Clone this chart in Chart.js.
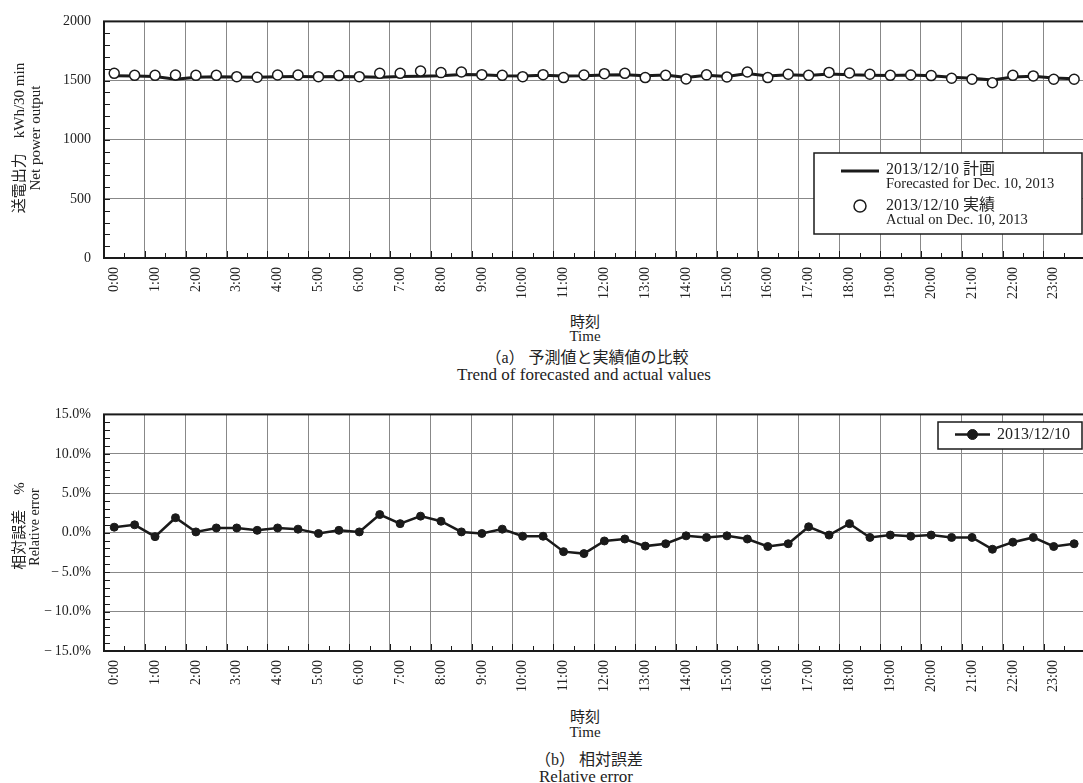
<!DOCTYPE html>
<html>
<head>
<meta charset="utf-8">
<script src="https://cdn.jsdelivr.net/npm/chart.js@4.4.1/dist/chart.umd.min.js"></script>
<style>
  html, body { margin: 0; padding: 0; background: #fff; width: 1083px; height: 783px; overflow: hidden; }
  .chart { position: absolute; left: 0; }
  .lbl {
    position: absolute; transform: translate(-50%, -50%); white-space: nowrap; color: #222;
    font-family: "Liberation Serif", "Noto Sans CJK JP", serif; line-height: 1;
  }
  .rot { transform: translate(-50%, -50%) rotate(-90deg); }
</style>
</head>
<body>
<canvas id="power" class="chart" width="1100" height="300" style="top:0"></canvas>
<canvas id="error" class="chart" width="1100" height="300" style="top:393px"></canvas>

<!-- (a) titles -->
<div class="lbl rot" style="left:19px; top:138px; font-size:15px">送電出力　kWh/30 min</div>
<div class="lbl rot" style="left:35px; top:138px; font-size:15px">Net power output</div>
<div class="lbl" style="left:585px; top:322px; font-size:15px">時刻</div>
<div class="lbl" style="left:585px; top:336px; font-size:15px">Time</div>
<div class="lbl" style="left:587px; top:358px; font-size:16px">（a） 予測値と実績値の比較</div>
<div class="lbl" style="left:584px; top:374px; font-size:17px">Trend of forecasted and actual values</div>

<!-- (b) titles -->
<div class="lbl rot" style="left:19px; top:526px; font-size:15px">相対誤差　%</div>
<div class="lbl rot" style="left:35px; top:527px; font-size:14px">Relative error</div>
<div class="lbl" style="left:585px; top:717px; font-size:15px">時刻</div>
<div class="lbl" style="left:585px; top:732px; font-size:15px">Time</div>
<div class="lbl" style="left:589px; top:760px; font-size:16px">（b） 相対誤差</div>
<div class="lbl" style="left:586px; top:776px; font-size:17px">Relative error</div>

<script>
// DATA
const timeLabels = [
    '0:00', '0:30', '1:00', '1:30', '2:00', '2:30', '3:00', '3:30',
    '4:00', '4:30', '5:00', '5:30', '6:00', '6:30', '7:00', '7:30',
    '8:00', '8:30', '9:00', '9:30', '10:00', '10:30', '11:00', '11:30',
    '12:00', '12:30', '13:00', '13:30', '14:00', '14:30', '15:00', '15:30',
    '16:00', '16:30', '17:00', '17:30', '18:00', '18:30', '19:00', '19:30',
    '20:00', '20:30', '21:00', '21:30', '22:00', '22:30', '23:00', '23:30'
];

// kWh/30 min
const forecastKwh = [
    1540, 1538, 1535, 1512, 1528, 1532, 1530, 1527, 1532, 1534, 1533, 1535,
    1532, 1528, 1535, 1537, 1540, 1552, 1548, 1541, 1538, 1545, 1538, 1540,
    1547, 1550, 1540, 1546, 1525, 1545, 1535, 1560, 1538, 1550, 1542, 1555,
    1548, 1545, 1543, 1547, 1540, 1528, 1520, 1505, 1530, 1537, 1522, 1516
];
const actualKwh = [
    1561, 1544, 1544, 1547, 1544, 1544, 1533, 1528, 1547, 1547, 1533, 1542,
    1533, 1561, 1561, 1581, 1567, 1572, 1550, 1544, 1533, 1550, 1525, 1547,
    1558, 1561, 1525, 1544, 1514, 1548, 1531, 1572, 1525, 1553, 1544, 1569,
    1564, 1553, 1544, 1547, 1542, 1519, 1511, 1481, 1544, 1539, 1511, 1511
];

// %
const relErrorPct = [
    0.7, 1.0, -0.5, 1.9, 0.1, 0.6, 0.6, 0.3, 0.6, 0.45, -0.1, 0.3,
    0.1, 2.3, 1.15, 2.1, 1.45, 0.1, -0.1, 0.45, -0.45, -0.45, -2.4, -2.65,
    -1.05, -0.8, -1.7, -1.4, -0.4, -0.6, -0.4, -0.8, -1.75, -1.4, 0.75, -0.3,
    1.15, -0.6, -0.3, -0.45, -0.3, -0.6, -0.6, -2.1, -1.2, -0.6, -1.75, -1.4
];

const powerTicks = [0, 500, 1000, 1500, 2000];
const errorTicks = [-15, -10, -5, 0, 5, 10, 15];

// STYLE
const FONT = '"Liberation Serif", "Noto Sans CJK JP", serif';
const INK = '#1a1a1a';
const GRID = '#888888';

// frame + inward tick marks
const frameTicks = {
    id: 'frameTicks',
    beforeDatasetsDraw(chart, args, opts) {
        const { ctx, chartArea: a, scales: { x, y } } = chart;
        ctx.save();
        ctx.strokeStyle = INK;
        ctx.lineWidth = 1;
        ctx.beginPath();
        for (let v = y.min; v <= y.max; v += opts.minorStep) {
            const py = Math.round(y.getPixelForValue(v)) + 0.5;
            ctx.moveTo(a.left, py);
            ctx.lineTo(a.left + 6, py);
        }
        for (let i = 0; i <= timeLabels.length; i++) {
            const px = Math.round(x.getPixelForValue(i - 0.5)) + 0.5;
            const len = i % 2 === 0 ? 7 : 5;
            ctx.moveTo(px, a.bottom);
            ctx.lineTo(px, a.bottom - len);
        }
        ctx.stroke();
        ctx.lineWidth = 2;
        ctx.strokeRect(a.left, a.top, a.right - a.left, a.bottom - a.top);
        ctx.restore();
    }
};

// boxed legend with two-line labels
const boxLegend = {
    id: 'boxLegend',
    afterDraw(chart, args, opts) {
        const ctx = chart.ctx;
        ctx.save();
        ctx.fillStyle = '#fff';
        ctx.fillRect(opts.x, opts.y, opts.w, opts.h);
        ctx.strokeStyle = INK;
        ctx.lineWidth = 1.5;
        ctx.strokeRect(opts.x, opts.y, opts.w, opts.h);

        opts.items.forEach(item => {
            const ds = chart.data.datasets[item.dataset];
            if (ds.showLine !== false) {
                ctx.strokeStyle = ds.borderColor;
                ctx.lineWidth = ds.borderWidth;
                ctx.beginPath();
                ctx.moveTo(item.x1, item.y);
                ctx.lineTo(item.x2, item.y);
                ctx.stroke();
            }
            if (ds.pointRadius > 0) {
                ctx.beginPath();
                ctx.arc((item.x1 + item.x2) / 2, item.y, item.r || ds.pointRadius, 0, Math.PI * 2);
                ctx.fillStyle = ds.pointBackgroundColor;
                ctx.fill();
                ctx.lineWidth = ds.pointBorderWidth;
                ctx.strokeStyle = ds.pointBorderColor;
                ctx.stroke();
            }
            ctx.fillStyle = '#222';
            ctx.textBaseline = 'middle';
            ctx.textAlign = 'left';
            item.lines.forEach(l => {
                ctx.font = l.size + 'px ' + FONT;
                ctx.fillText(l.text, opts.textX, l.y);
            });
        });
        ctx.restore();
    }
};

function xAxis() {
    return {
        type: 'category',
        offset: true,
        afterFit: s => { s.height = 42; },
        grid: {
            offset: true,
            drawTicks: false,
            color: c => (c.index % 2 === 0 ? GRID : 'rgba(0,0,0,0)'),
            lineWidth: 1
        },
        border: { display: false },
        ticks: {
            autoSkip: false,
            minRotation: 90,
            maxRotation: 90,
            padding: 9,
            color: '#222',
            font: { family: FONT, size: 14 },
            callback: (v, i) => (i % 2 === 0 ? timeLabels[i] : '')
        }
    };
}

function yAxis(min, max, tickValues, fmt) {
    return {
        min: min,
        max: max,
        afterFit: s => { s.width = 104; },
        afterBuildTicks: s => { s.ticks = tickValues.map(v => ({ value: v })); },
        grid: { drawTicks: false, color: GRID, lineWidth: 1 },
        border: { display: false },
        ticks: {
            padding: 13,
            color: '#222',
            font: { family: FONT, size: 14 },
            callback: fmt
        }
    };
}

const baseOptions = {
    responsive: false,
    animation: false,
    layout: { padding: { left: 0, top: 18, right: 4.4, bottom: 0 } },
    plugins: { legend: { display: false }, tooltip: { enabled: false } }
};

// (a) POWER CHART
new Chart(document.getElementById('power'), {
    type: 'line',
    data: {
        labels: timeLabels,
        datasets: [
            {
                label: '2013/12/10 実績',
                data: actualKwh,
                showLine: false,
                pointRadius: 5,
                pointBorderWidth: 1.5,
                pointBackgroundColor: '#fff',
                pointBorderColor: INK,
                borderColor: INK
            },
            {
                label: '2013/12/10 計画',
                data: forecastKwh,
                borderColor: INK,
                borderWidth: 3,
                pointRadius: 0,
                tension: 0
            }
        ]
    },
    options: {
        ...baseOptions,
        scales: {
            x: xAxis(),
            y: yAxis(0, 2000, powerTicks, v => String(v))
        },
        plugins: {
            ...baseOptions.plugins,
            frameTicks: { minorStep: 100 },
            boxLegend: {
                x: 814, y: 153, w: 268, h: 81, textX: 886,
                items: [
                    { dataset: 1, x1: 841, x2: 879, y: 171,
                      lines: [{ text: '2013/12/10 計画', size: 16, y: 170 },
                              { text: 'Forecasted for Dec. 10, 2013', size: 14.5, y: 184 }] },
                    { dataset: 0, x1: 852, x2: 868, y: 206, r: 6,
                      lines: [{ text: '2013/12/10 実績', size: 16, y: 206 },
                              { text: 'Actual on Dec. 10, 2013', size: 14.5, y: 220 }] }
                ]
            }
        }
    },
    plugins: [frameTicks, boxLegend]
});

// (b) RELATIVE ERROR CHART
new Chart(document.getElementById('error'), {
    type: 'line',
    data: {
        labels: timeLabels,
        datasets: [{
            label: '2013/12/10',
            data: relErrorPct,
            borderColor: INK,
            borderWidth: 2.5,
            pointRadius: 4,
            pointBorderWidth: 1,
            pointBackgroundColor: INK,
            pointBorderColor: INK,
            tension: 0
        }]
    },
    options: {
        ...baseOptions,
        scales: {
            x: xAxis(),
            y: yAxis(-15, 15, errorTicks, v => (v < 0 ? '\u2212\u2009' + Math.abs(v).toFixed(1) : v.toFixed(1)) + '%')
        },
        plugins: {
            ...baseOptions.plugins,
            frameTicks: { minorStep: 1 },
            boxLegend: {
                x: 938, y: 422 - 393, w: 144, h: 27, textX: 997,
                items: [
                    { dataset: 0, x1: 955, x2: 990, y: 434.5 - 393, r: 5,
                      lines: [{ text: '2013/12/10', size: 16, y: 435 - 393 }] }
                ]
            }
        }
    },
    plugins: [frameTicks, boxLegend]
});
</script>
</body>
</html>
